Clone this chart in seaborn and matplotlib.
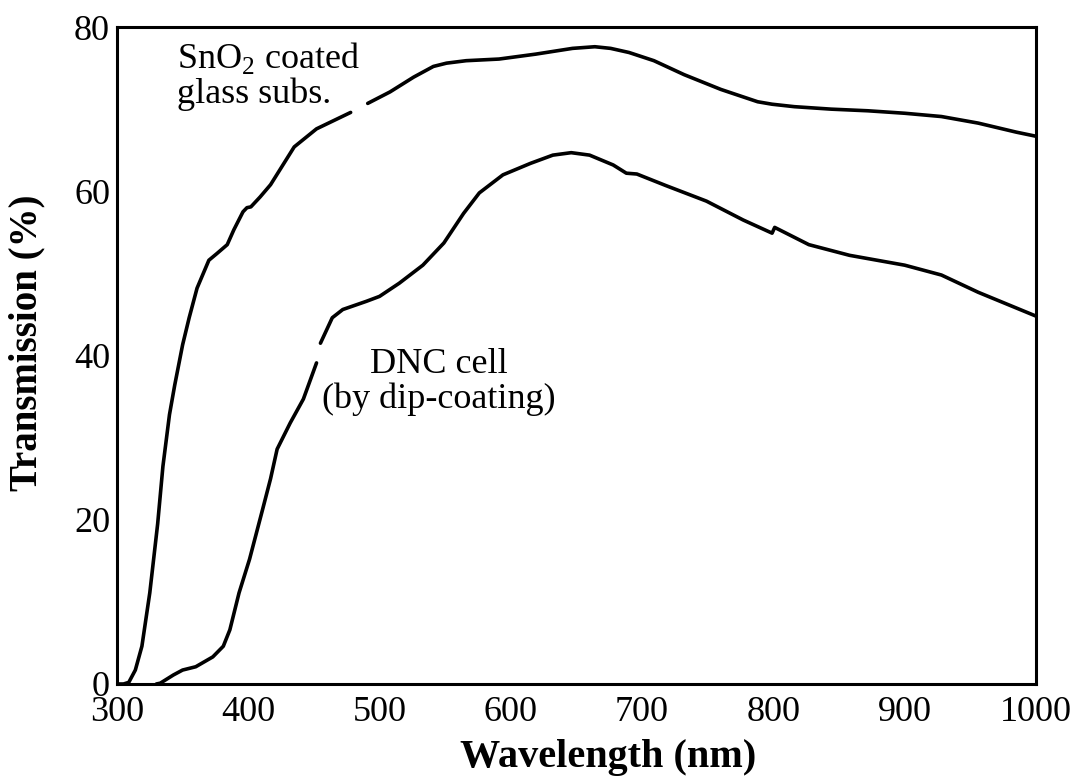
import numpy as np
import pandas as pd
import seaborn as sns
import matplotlib.pyplot as plt

# SnO2 coated glass substrate (nan = break in the trace)
sno2_wl = [300, 305, 309, 314, 319, 325, 331, 335, 340, 344, 350, 355, 361, 370, 376,
           384, 389, 396, 399, 402, 409, 417, 435, 452, 465, 478, np.nan,
           491, 508, 526, 541, 551, 566, 591, 619, 647, 664, 676, 690, 709, 732,
           760, 788, 799, 816, 844, 872, 900, 928, 956, 985, 1000]
sno2_tr = [0, 0, 0.2, 1.7, 4.6, 11.1, 19.5, 26.5, 32.8, 36.4, 41.3, 44.6, 48.2, 51.6, 52.4,
           53.5, 55.3, 57.5, 58.0, 58.1, 59.3, 60.8, 65.4, 67.6, 68.6, 69.6, np.nan,
           70.7, 72.1, 73.9, 75.2, 75.6, 75.9, 76.1, 76.7, 77.4, 77.6, 77.4, 76.9, 75.9, 74.2,
           72.4, 70.9, 70.6, 70.3, 70.0, 69.8, 69.5, 69.1, 68.3, 67.2, 66.7]

# DNC cell made by dip-coating
dnc_wl = [330, 333, 343, 350, 360, 373, 381, 386, 393, 401, 411, 417, 422, 432, 442, 452,
          np.nan, 455, 464, 472, 490, 500, 515, 533, 549, 564, 576, 594, 615, 632, 646,
          660, 678, 688, 696, 718, 749, 777, 799, 801, 827, 858, 900, 928, 956, 1000]
dnc_tr = [0, 0.1, 1.1, 1.7, 2.1, 3.3, 4.6, 6.6, 11.1, 15.2, 21.3, 25.0, 28.6, 31.8, 34.7, 39.1,
          np.nan, 41.5, 44.6, 45.6, 46.6, 47.2, 48.8, 51.0, 53.7, 57.3, 59.8, 62.0, 63.4, 64.4, 64.7,
          64.4, 63.2, 62.2, 62.1, 60.7, 58.8, 56.5, 54.9, 55.6, 53.5, 52.2, 51.0, 49.8, 47.7, 44.8]

curve_names = ["SnO2", "DNC"]
x_ticks = [300, 400, 500, 600, 700, 800, 900, 1000]
y_ticks = [0, 20, 40, 60, 80]


def to_frame(wl, tr, name):
    d = pd.DataFrame({"wl": wl, "tr": tr})
    d["seg"] = name + d["wl"].isna().cumsum().astype(str)
    return d.dropna()


df = pd.concat([to_frame(sno2_wl, sno2_tr, curve_names[0]),
                to_frame(dnc_wl, dnc_tr, curve_names[1])])

sns.set_style("white")
plt.rcParams["font.family"] = ["Liberation Serif", "DejaVu Serif"]
plt.rcParams["mathtext.fontset"] = "custom"
plt.rcParams["mathtext.rm"] = "Liberation Serif"
plt.rcParams["text.color"] = "black"
plt.rcParams["axes.labelcolor"] = "black"

fig = plt.figure(figsize=(10.78, 7.81), dpi=100)
ax = fig.add_axes([0.1085, 0.1242, 0.8525, 0.8412])

sns.lineplot(data=df, x="wl", y="tr", units="seg", estimator=None,
             color="black", linewidth=2.6, ax=ax, legend=False)

ax.set_xlim(300, 1000)
ax.set_ylim(0, 80)
ax.set_xticks(x_ticks)
ax.set_yticks(y_ticks)
ax.tick_params(direction="in", length=9, width=2, labelsize=26,
               top=False, right=False, colors="black")
ax.tick_params(axis="x", pad=9)
ax.tick_params(axis="y", pad=5)
for s in ax.spines.values():
    s.set_linewidth(2.2)
    s.set_color("black")

ax.set_xlabel("Wavelength (nm)", fontsize=29, fontweight="bold")
ax.set_ylabel("Transmission (%)", fontsize=28, fontweight="bold")
ax.xaxis.set_label_coords(0.534, -0.083)
ax.yaxis.set_label_coords(-0.078, 0.52)

ax.text(346, 75.0, "SnO$_\\mathregular{2}$ coated", fontsize=26)
ax.text(346, 70.8, "glass subs.", fontsize=26)
ax.text(545, 37.9, "DNC cell", fontsize=26, ha="center")
ax.text(545, 33.6, "(by dip-coating)", fontsize=26, ha="center")

fig.savefig("out.png", dpi=100)
